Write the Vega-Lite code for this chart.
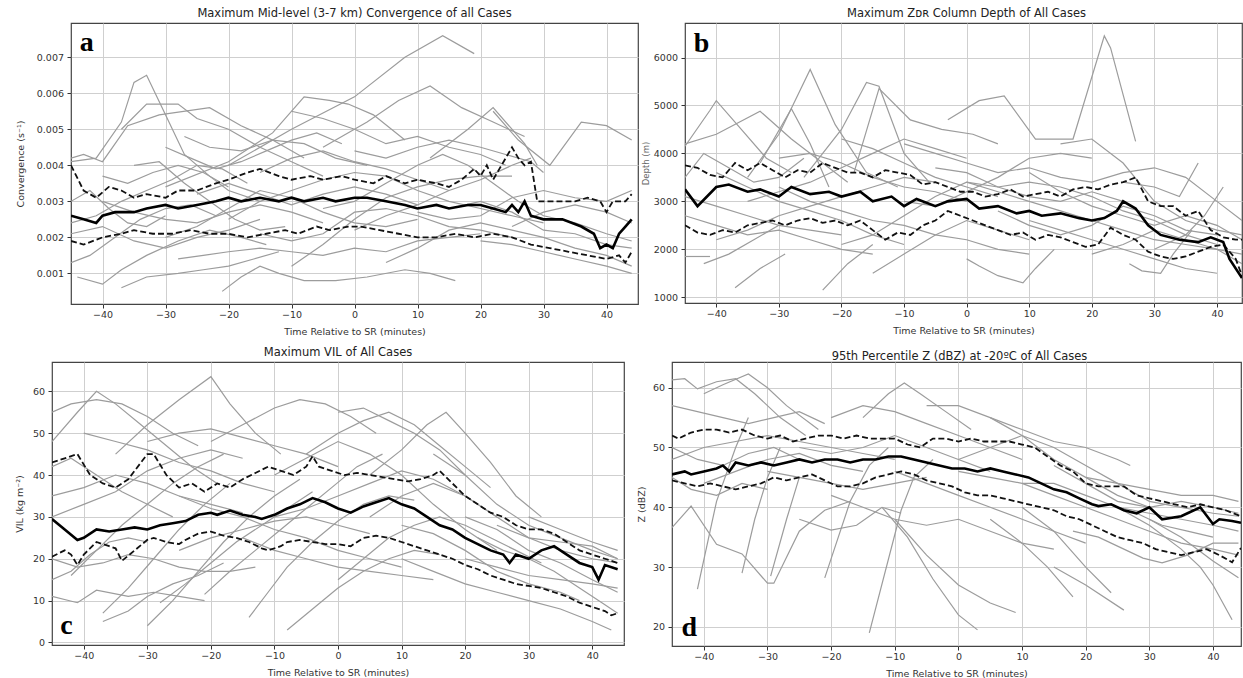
{
"$schema":"https://vega.github.io/schema/vega-lite/v6.json",
"padding":{"left":13,"top":7,"right":0,"bottom":0},
"config":{
 "view":{"stroke":"#444","strokeWidth":1.2},
 "axis":{"grid":true,"gridColor":"#cfcfcf","gridWidth":1,"domain":false,"tickColor":"#333","tickSize":4,"labelFont":"DejaVu Sans","labelFontSize":9.5,"labelColor":"#333","labelPadding":3.5,"titleFont":"DejaVu Sans","titleFontSize":9.5,"titleFontWeight":"normal","titleColor":"#333"},
 "axisX":{"labelPadding":1.5,"titlePadding":7},
 "title":{"font":"DejaVu Sans","fontSize":11.5,"fontWeight":"normal","color":"#222","offset":3.5}
},
"datasets":{
"ag":[
{"s":1,"t":-20,"v":0.004},{"s":1,"t":-10,"v":0.005},{"s":1,"t":0,"v":0.0059},{"s":1,"t":8,"v":0.007},{"s":1,"t":14,"v":0.0076},{"s":1,"t":19,"v":0.0071},
{"s":2,"t":-45,"v":0.0041},{"s":2,"t":-41,"v":0.0042},{"s":2,"t":-37,"v":0.0052},{"s":2,"t":-35,"v":0.0063},{"s":2,"t":-33,"v":0.0065},{"s":2,"t":-30,"v":0.0054},{"s":2,"t":-27,"v":0.0043},{"s":2,"t":-23,"v":0.0037},{"s":2,"t":-20,"v":0.0033},{"s":2,"t":-15,"v":0.003},
{"s":3,"t":-37,"v":0.005},{"s":3,"t":-33,"v":0.0057},{"s":3,"t":-28,"v":0.0057},{"s":3,"t":-25,"v":0.0053},{"s":3,"t":-20,"v":0.005},{"s":3,"t":-15,"v":0.0045},{"s":3,"t":-10,"v":0.0041},{"s":3,"t":-5,"v":0.0037},
{"s":4,"t":-45,"v":0.0042},{"s":4,"t":-43,"v":0.0043},{"s":4,"t":-40,"v":0.0041},{"s":4,"t":-36,"v":0.0051},{"s":4,"t":-31,"v":0.0054},{"s":4,"t":-23,"v":0.0056},{"s":4,"t":-18,"v":0.0051},{"s":4,"t":-13,"v":0.0047},{"s":4,"t":-8,"v":0.0042},
{"s":5,"t":-30,"v":0.0034},{"s":5,"t":-20,"v":0.0041},{"s":5,"t":-13,"v":0.0049},{"s":5,"t":-8,"v":0.0059},{"s":5,"t":-4,"v":0.0058},{"s":5,"t":-1,"v":0.0057},{"s":5,"t":3,"v":0.0054},{"s":5,"t":8,"v":0.0047},
{"s":6,"t":-5,"v":0.0045},{"s":6,"t":2,"v":0.0052},{"s":6,"t":7,"v":0.0058},{"s":6,"t":12,"v":0.0062},{"s":6,"t":17,"v":0.0056},{"s":6,"t":22,"v":0.0052},{"s":6,"t":27,"v":0.0048},
{"s":7,"t":12,"v":0.0042},{"s":7,"t":18,"v":0.005},{"s":7,"t":22,"v":0.0056},{"s":7,"t":27,"v":0.0046},{"s":7,"t":29,"v":0.004},
{"s":8,"t":22,"v":0.0055},{"s":8,"t":26,"v":0.0047},{"s":8,"t":31,"v":0.004},{"s":8,"t":36,"v":0.0052},{"s":8,"t":40,"v":0.0051},{"s":8,"t":44,"v":0.0047},
{"s":9,"t":-10,"v":0.0055},{"s":9,"t":-5,"v":0.0053},{"s":9,"t":0,"v":0.005},{"s":9,"t":5,"v":0.0046},{"s":9,"t":10,"v":0.0048},{"s":9,"t":15,"v":0.0045},{"s":9,"t":20,"v":0.0043},{"s":9,"t":24,"v":0.004},
{"s":10,"t":-27,"v":0.0048},{"s":10,"t":-23,"v":0.0045},{"s":10,"t":-18,"v":0.0044},{"s":10,"t":-13,"v":0.0047},{"s":10,"t":-8,"v":0.0046},{"s":10,"t":-3,"v":0.0042},{"s":10,"t":2,"v":0.004},
{"s":11,"t":-44,"v":0.0009},{"s":11,"t":-40,"v":0.0007},{"s":11,"t":-37,"v":0.0011},{"s":11,"t":-33,"v":0.0015},{"s":11,"t":-28,"v":0.0019},{"s":11,"t":-23,"v":0.0022},{"s":11,"t":-18,"v":0.002},{"s":11,"t":-14,"v":0.0018},
{"s":12,"t":-37,"v":0.0006},{"s":12,"t":-33,"v":0.0009},{"s":12,"t":-28,"v":0.001},{"s":12,"t":-24,"v":0.0011},{"s":12,"t":-20,"v":0.0012},{"s":12,"t":-16,"v":0.0014},{"s":12,"t":-12,"v":0.0016},
{"s":13,"t":-21,"v":0.0005},{"s":13,"t":-18,"v":0.0009},{"s":13,"t":-15,"v":0.0012},{"s":13,"t":-12,"v":0.001},{"s":13,"t":-8,"v":0.0008},{"s":13,"t":-3,"v":0.0008},{"s":13,"t":2,"v":0.0009},{"s":13,"t":8,"v":0.0011},{"s":13,"t":12,"v":0.001},{"s":13,"t":16,"v":0.0008},
{"s":14,"t":-45,"v":0.0013},{"s":14,"t":-42,"v":0.0015},{"s":14,"t":-38,"v":0.002},{"s":14,"t":-34,"v":0.0025},{"s":14,"t":-30,"v":0.0028},{"s":14,"t":-26,"v":0.0029},{"s":14,"t":-22,"v":0.0026},
{"s":15,"t":-28,"v":0.0014},{"s":15,"t":-24,"v":0.0015},{"s":15,"t":-20,"v":0.0016},{"s":15,"t":-15,"v":0.0017},{"s":15,"t":-10,"v":0.0016},{"s":15,"t":-5,"v":0.0015},{"s":15,"t":0,"v":0.0017},{"s":15,"t":5,"v":0.0016},{"s":15,"t":10,"v":0.0019},{"s":15,"t":15,"v":0.002},{"s":15,"t":20,"v":0.0021},
{"s":16,"t":-10,"v":0.0012},{"s":16,"t":-5,"v":0.0018},{"s":16,"t":0,"v":0.0025},{"s":16,"t":5,"v":0.0031},{"s":16,"t":10,"v":0.0034},{"s":16,"t":15,"v":0.0036},{"s":16,"t":20,"v":0.0037},{"s":16,"t":25,"v":0.0037},
{"s":17,"t":5,"v":0.0013},{"s":17,"t":10,"v":0.0017},{"s":17,"t":15,"v":0.0022},{"s":17,"t":20,"v":0.0024},{"s":17,"t":25,"v":0.0022},{"s":17,"t":30,"v":0.002},{"s":17,"t":35,"v":0.0017},{"s":17,"t":40,"v":0.0015},{"s":17,"t":44,"v":0.0012},
{"s":18,"t":15,"v":0.0028},{"s":18,"t":20,"v":0.003},{"s":18,"t":25,"v":0.0027},{"s":18,"t":30,"v":0.0022},{"s":18,"t":35,"v":0.0021},{"s":18,"t":40,"v":0.0018},{"s":18,"t":44,"v":0.0017},
{"s":19,"t":-45,"v":0.0024},{"s":19,"t":-41,"v":0.0026},{"s":19,"t":-37,"v":0.003},{"s":19,"t":-33,"v":0.0033},{"s":19,"t":-29,"v":0.0036},{"s":19,"t":-25,"v":0.004},{"s":19,"t":-21,"v":0.0039},{"s":19,"t":-17,"v":0.0035},
{"s":20,"t":-35,"v":0.004},{"s":20,"t":-31,"v":0.0041},{"s":20,"t":-27,"v":0.0035},{"s":20,"t":-23,"v":0.003},{"s":20,"t":-19,"v":0.0025},{"s":20,"t":-15,"v":0.0022},{"s":20,"t":-11,"v":0.0023},
{"s":21,"t":-20,"v":0.0025},{"s":21,"t":-15,"v":0.003},{"s":21,"t":-10,"v":0.0033},{"s":21,"t":-5,"v":0.0036},{"s":21,"t":0,"v":0.0038},{"s":21,"t":5,"v":0.0037},{"s":21,"t":10,"v":0.0033},{"s":21,"t":15,"v":0.003},{"s":21,"t":20,"v":0.0028},{"s":21,"t":25,"v":0.0026},{"s":21,"t":30,"v":0.0024},
{"s":22,"t":0,"v":0.0022},{"s":22,"t":5,"v":0.0026},{"s":22,"t":10,"v":0.0029},{"s":22,"t":15,"v":0.0033},{"s":22,"t":20,"v":0.0036},{"s":22,"t":25,"v":0.004},{"s":22,"t":28,"v":0.0042},
{"s":23,"t":-5,"v":0.0028},{"s":23,"t":0,"v":0.003},{"s":23,"t":5,"v":0.0035},{"s":23,"t":10,"v":0.004},{"s":23,"t":14,"v":0.0043},{"s":23,"t":18,"v":0.004},{"s":23,"t":22,"v":0.0035},{"s":23,"t":26,"v":0.003},{"s":23,"t":30,"v":0.0026},{"s":23,"t":35,"v":0.0024},{"s":23,"t":40,"v":0.0021},{"s":23,"t":44,"v":0.0019},
{"s":24,"t":-40,"v":0.003},{"s":24,"t":-35,"v":0.0027},{"s":24,"t":-30,"v":0.0025},{"s":24,"t":-25,"v":0.0024},{"s":24,"t":-20,"v":0.0027},{"s":24,"t":-15,"v":0.0029},{"s":24,"t":-10,"v":0.0027},{"s":24,"t":-5,"v":0.0024},
{"s":25,"t":-15,"v":0.0038},{"s":25,"t":-10,"v":0.0042},{"s":25,"t":-5,"v":0.0044},{"s":25,"t":0,"v":0.0041},{"s":25,"t":5,"v":0.0039},{"s":25,"t":10,"v":0.0036},{"s":25,"t":15,"v":0.0033},
{"s":26,"t":-30,"v":0.002},{"s":26,"t":-25,"v":0.0023},{"s":26,"t":-20,"v":0.0028},{"s":26,"t":-15,"v":0.0033},{"s":26,"t":-10,"v":0.0031},{"s":26,"t":-5,"v":0.0027},{"s":26,"t":0,"v":0.0024},{"s":26,"t":5,"v":0.0023},{"s":26,"t":10,"v":0.0025},
{"s":27,"t":10,"v":0.0027},{"s":27,"t":15,"v":0.0025},{"s":27,"t":20,"v":0.0026},{"s":27,"t":25,"v":0.0031},{"s":27,"t":30,"v":0.0033},{"s":27,"t":35,"v":0.0031},{"s":27,"t":40,"v":0.003},{"s":27,"t":44,"v":0.0033},
{"s":28,"t":-45,"v":0.003},{"s":28,"t":-42,"v":0.0033},{"s":28,"t":-39,"v":0.0028},{"s":28,"t":-36,"v":0.0024},{"s":28,"t":-33,"v":0.0023},{"s":28,"t":-30,"v":0.0026},
{"s":29,"t":20,"v":0.0019},{"s":29,"t":25,"v":0.0018},{"s":29,"t":30,"v":0.0016},{"s":29,"t":35,"v":0.0014},{"s":29,"t":40,"v":0.0012},{"s":29,"t":44,"v":0.001},
{"s":30,"t":-25,"v":0.0032},{"s":30,"t":-20,"v":0.0035},{"s":30,"t":-15,"v":0.0032},{"s":30,"t":-10,"v":0.0029},{"s":30,"t":-5,"v":0.0032},{"s":30,"t":0,"v":0.0034},{"s":30,"t":5,"v":0.0032},{"s":30,"t":10,"v":0.0029},
{"s":31,"t":-45,"v":0.0021},{"s":31,"t":-40,"v":0.0023},{"s":31,"t":-35,"v":0.0019},{"s":31,"t":-30,"v":0.0017},{"s":31,"t":-25,"v":0.002},{"s":31,"t":-20,"v":0.0022},{"s":31,"t":-15,"v":0.0025},
{"s":32,"t":-30,"v":0.0045},{"s":32,"t":-26,"v":0.0042},{"s":32,"t":-22,"v":0.0039},{"s":32,"t":-18,"v":0.0041},{"s":32,"t":-14,"v":0.0044},{"s":32,"t":-10,"v":0.0047},{"s":32,"t":-6,"v":0.0049},{"s":32,"t":-2,"v":0.0046},
{"s":33,"t":0,"v":0.0044},{"s":33,"t":5,"v":0.0042},{"s":33,"t":10,"v":0.0045},{"s":33,"t":15,"v":0.0047},{"s":33,"t":20,"v":0.0045},{"s":33,"t":24,"v":0.0043},{"s":33,"t":28,"v":0.0041},{"s":33,"t":30,"v":0.0038},
{"s":34,"t":25,"v":0.0023},{"s":34,"t":30,"v":0.0027},{"s":34,"t":35,"v":0.0029},{"s":34,"t":40,"v":0.0027},{"s":34,"t":44,"v":0.0024},
{"s":35,"t":-15,"v":0.0021},{"s":35,"t":-10,"v":0.0019},{"s":35,"t":-5,"v":0.0021},{"s":35,"t":0,"v":0.0027},{"s":35,"t":5,"v":0.0028},{"s":35,"t":10,"v":0.0026},{"s":35,"t":15,"v":0.0023},{"s":35,"t":20,"v":0.0022},{"s":35,"t":25,"v":0.002},
{"s":36,"t":-40,"v":0.0037},{"s":36,"t":-36,"v":0.0035},{"s":36,"t":-32,"v":0.0038},{"s":36,"t":-28,"v":0.004},{"s":36,"t":-24,"v":0.0038},{"s":36,"t":-20,"v":0.0034}
],
"am":[
{"s":"m","t":-45,"v":0.0026},{"s":"m","t":-43,"v":0.0025},{"s":"m","t":-41,"v":0.0024},{"s":"m","t":-40,"v":0.0026},{"s":"m","t":-38,"v":0.0027},{"s":"m","t":-35,"v":0.0027},{"s":"m","t":-33,"v":0.0028},{"s":"m","t":-30,"v":0.0029},{"s":"m","t":-28,"v":0.0028},{"s":"m","t":-25,"v":0.0029},{"s":"m","t":-22,"v":0.003},{"s":"m","t":-20,"v":0.0031},{"s":"m","t":-18,"v":0.003},{"s":"m","t":-15,"v":0.0031},{"s":"m","t":-12,"v":0.003},{"s":"m","t":-10,"v":0.0031},{"s":"m","t":-8,"v":0.003},{"s":"m","t":-5,"v":0.0031},{"s":"m","t":-3,"v":0.003},{"s":"m","t":0,"v":0.0031},{"s":"m","t":2,"v":0.0031},{"s":"m","t":5,"v":0.003},{"s":"m","t":8,"v":0.0029},{"s":"m","t":10,"v":0.0028},{"s":"m","t":13,"v":0.0029},{"s":"m","t":15,"v":0.0028},{"s":"m","t":18,"v":0.0029},{"s":"m","t":20,"v":0.0029},{"s":"m","t":22,"v":0.0028},{"s":"m","t":24,"v":0.0027},{"s":"m","t":25,"v":0.0029},{"s":"m","t":26,"v":0.0027},{"s":"m","t":27,"v":0.003},{"s":"m","t":28,"v":0.0026},{"s":"m","t":30,"v":0.0025},{"s":"m","t":33,"v":0.0025},{"s":"m","t":36,"v":0.0023},{"s":"m","t":38,"v":0.0021},{"s":"m","t":39,"v":0.0017},{"s":"m","t":40,"v":0.0018},{"s":"m","t":41,"v":0.0017},{"s":"m","t":42,"v":0.0021},{"s":"m","t":43,"v":0.0023},{"s":"m","t":44,"v":0.0025},
{"s":"h","t":-45,"v":0.004},{"s":"h","t":-43,"v":0.0033},{"s":"h","t":-41,"v":0.0031},{"s":"h","t":-39,"v":0.0034},{"s":"h","t":-37,"v":0.0033},{"s":"h","t":-35,"v":0.0031},{"s":"h","t":-33,"v":0.0032},{"s":"h","t":-30,"v":0.0031},{"s":"h","t":-28,"v":0.0033},{"s":"h","t":-25,"v":0.0033},{"s":"h","t":-22,"v":0.0035},{"s":"h","t":-20,"v":0.0036},{"s":"h","t":-17,"v":0.0038},{"s":"h","t":-15,"v":0.0039},{"s":"h","t":-12,"v":0.0037},{"s":"h","t":-10,"v":0.0036},{"s":"h","t":-7,"v":0.0037},{"s":"h","t":-5,"v":0.0036},{"s":"h","t":-2,"v":0.0037},{"s":"h","t":0,"v":0.0036},{"s":"h","t":3,"v":0.0035},{"s":"h","t":5,"v":0.0037},{"s":"h","t":8,"v":0.0035},{"s":"h","t":10,"v":0.0036},{"s":"h","t":13,"v":0.0035},{"s":"h","t":15,"v":0.0034},{"s":"h","t":17,"v":0.0036},{"s":"h","t":19,"v":0.0039},{"s":"h","t":20,"v":0.0037},{"s":"h","t":21,"v":0.004},{"s":"h","t":22,"v":0.0036},{"s":"h","t":23,"v":0.0039},{"s":"h","t":25,"v":0.0045},{"s":"h","t":26,"v":0.0042},{"s":"h","t":27,"v":0.004},{"s":"h","t":28,"v":0.0041},{"s":"h","t":29,"v":0.003},{"s":"h","t":32,"v":0.003},{"s":"h","t":35,"v":0.003},{"s":"h","t":37,"v":0.0031},{"s":"h","t":39,"v":0.003},{"s":"h","t":40,"v":0.0027},{"s":"h","t":41,"v":0.003},{"s":"h","t":43,"v":0.003},{"s":"h","t":44,"v":0.0032},
{"s":"l","t":-45,"v":0.0019},{"s":"l","t":-43,"v":0.0018},{"s":"l","t":-40,"v":0.002},{"s":"l","t":-37,"v":0.0021},{"s":"l","t":-35,"v":0.0022},{"s":"l","t":-32,"v":0.0021},{"s":"l","t":-29,"v":0.0021},{"s":"l","t":-26,"v":0.0022},{"s":"l","t":-23,"v":0.0021},{"s":"l","t":-20,"v":0.0021},{"s":"l","t":-17,"v":0.002},{"s":"l","t":-14,"v":0.0021},{"s":"l","t":-11,"v":0.0022},{"s":"l","t":-9,"v":0.0021},{"s":"l","t":-6,"v":0.0023},{"s":"l","t":-4,"v":0.0022},{"s":"l","t":-1,"v":0.0023},{"s":"l","t":1,"v":0.0023},{"s":"l","t":4,"v":0.0022},{"s":"l","t":7,"v":0.0021},{"s":"l","t":10,"v":0.002},{"s":"l","t":13,"v":0.002},{"s":"l","t":16,"v":0.0021},{"s":"l","t":19,"v":0.002},{"s":"l","t":22,"v":0.0021},{"s":"l","t":25,"v":0.002},{"s":"l","t":28,"v":0.0018},{"s":"l","t":31,"v":0.0017},{"s":"l","t":34,"v":0.0016},{"s":"l","t":37,"v":0.0015},{"s":"l","t":40,"v":0.0014},{"s":"l","t":42,"v":0.0015},{"s":"l","t":43,"v":0.0013},{"s":"l","t":44,"v":0.0016}
],
"bg":[
{"s":1,"t":-3,"v":4700},{"s":1,"t":2,"v":5100},{"s":1,"t":6,"v":5200},{"s":1,"t":11,"v":4300},{"s":1,"t":17,"v":4300},{"s":1,"t":22,"v":6450},{"s":1,"t":23,"v":6200},{"s":1,"t":27,"v":4250},
{"s":2,"t":-35,"v":3500},{"s":2,"t":-30,"v":4400},{"s":2,"t":-25,"v":5750},{"s":2,"t":-21,"v":4600},{"s":2,"t":-16,"v":3600},{"s":2,"t":-11,"v":3300},
{"s":3,"t":-26,"v":3500},{"s":3,"t":-20,"v":4500},{"s":3,"t":-16,"v":5480},{"s":3,"t":-14,"v":5400},{"s":3,"t":-10,"v":4000},{"s":3,"t":-6,"v":3400},
{"s":4,"t":-18,"v":3600},{"s":4,"t":-14,"v":5350},{"s":4,"t":-9,"v":4700},{"s":4,"t":-4,"v":4500},{"s":4,"t":1,"v":4400},{"s":4,"t":5,"v":4200},
{"s":5,"t":-45,"v":4150},{"s":5,"t":-41,"v":4900},{"s":5,"t":-40,"v":5100},{"s":5,"t":-36,"v":4500},{"s":5,"t":-32,"v":3900},{"s":5,"t":-28,"v":3600},
{"s":6,"t":-45,"v":4200},{"s":6,"t":-40,"v":4400},{"s":6,"t":-33,"v":4880},{"s":6,"t":-28,"v":4300},{"s":6,"t":-23,"v":3800},{"s":6,"t":-19,"v":3400},
{"s":7,"t":-33,"v":3800},{"s":7,"t":-28,"v":4930},{"s":7,"t":-25,"v":4200},{"s":7,"t":-22,"v":3300},
{"s":8,"t":-37,"v":1200},{"s":8,"t":-33,"v":1600},{"s":8,"t":-29,"v":1900},
{"s":9,"t":-23,"v":1150},{"s":9,"t":-19,"v":1700},{"s":9,"t":-15,"v":2100},
{"s":10,"t":0,"v":1800},{"s":10,"t":2,"v":1650},{"s":10,"t":5,"v":1450},{"s":10,"t":9,"v":1300},{"s":10,"t":11,"v":1600},{"s":10,"t":14,"v":2000},
{"s":11,"t":26,"v":1700},{"s":11,"t":28,"v":1550},{"s":11,"t":31,"v":1500},{"s":11,"t":33,"v":1900},{"s":11,"t":36,"v":2400},
{"s":12,"t":-45,"v":1850},{"s":12,"t":-41,"v":1850},
{"s":13,"t":-42,"v":1700},{"s":13,"t":-38,"v":1900},{"s":13,"t":-34,"v":2200},{"s":13,"t":-30,"v":2500},
{"s":14,"t":25,"v":3400},{"s":14,"t":30,"v":3300},{"s":14,"t":34,"v":3100},{"s":14,"t":37,"v":3800},
{"s":15,"t":-10,"v":4200},{"s":15,"t":-5,"v":4000},{"s":15,"t":0,"v":3800},{"s":15,"t":5,"v":3600},{"s":15,"t":10,"v":3700},{"s":15,"t":15,"v":3500},{"s":15,"t":20,"v":3400},{"s":15,"t":25,"v":3600},{"s":15,"t":30,"v":3700},{"s":15,"t":35,"v":3500},{"s":15,"t":40,"v":3000},{"s":15,"t":44,"v":2600},
{"s":16,"t":-20,"v":4300},{"s":16,"t":-15,"v":4100},{"s":16,"t":-10,"v":3800},{"s":16,"t":-5,"v":3500},{"s":16,"t":0,"v":3300},{"s":16,"t":5,"v":3100},
{"s":17,"t":-30,"v":3300},{"s":17,"t":-25,"v":3000},{"s":17,"t":-20,"v":2800},{"s":17,"t":-15,"v":2600},{"s":17,"t":-10,"v":2500},{"s":17,"t":-5,"v":2300},{"s":17,"t":0,"v":2200},{"s":17,"t":5,"v":2000},{"s":17,"t":10,"v":1900},
{"s":18,"t":-45,"v":3100},{"s":18,"t":-40,"v":2900},{"s":18,"t":-35,"v":2700},{"s":18,"t":-30,"v":2500},{"s":18,"t":-25,"v":2400},{"s":18,"t":-20,"v":2300},
{"s":19,"t":-40,"v":3600},{"s":19,"t":-35,"v":3300},{"s":19,"t":-30,"v":3000},{"s":19,"t":-25,"v":2800},{"s":19,"t":-20,"v":2600},{"s":19,"t":-15,"v":2300},{"s":19,"t":-10,"v":2100},
{"s":20,"t":0,"v":3400},{"s":20,"t":5,"v":3200},{"s":20,"t":10,"v":3000},{"s":20,"t":15,"v":2800},{"s":20,"t":20,"v":2600},{"s":20,"t":25,"v":2400},{"s":20,"t":30,"v":2200},{"s":20,"t":35,"v":2100},{"s":20,"t":40,"v":2000},{"s":20,"t":44,"v":1900},
{"s":21,"t":10,"v":2600},{"s":21,"t":15,"v":2400},{"s":21,"t":20,"v":2200},{"s":21,"t":25,"v":2000},{"s":21,"t":30,"v":1800},{"s":21,"t":35,"v":1600},{"s":21,"t":40,"v":1500},
{"s":22,"t":-10,"v":3000},{"s":22,"t":-5,"v":2900},{"s":22,"t":0,"v":3200},{"s":22,"t":5,"v":3500},{"s":22,"t":10,"v":3900},{"s":22,"t":15,"v":4000},{"s":22,"t":20,"v":3900},
{"s":23,"t":5,"v":2800},{"s":23,"t":10,"v":2500},{"s":23,"t":15,"v":2300},{"s":23,"t":20,"v":2500},{"s":23,"t":25,"v":2900},{"s":23,"t":30,"v":2700},{"s":23,"t":35,"v":2400},{"s":23,"t":40,"v":2300},
{"s":24,"t":-35,"v":3000},{"s":24,"t":-30,"v":3200},{"s":24,"t":-25,"v":3400},{"s":24,"t":-20,"v":3700},{"s":24,"t":-15,"v":4000},{"s":24,"t":-10,"v":4300},{"s":24,"t":-5,"v":4100},{"s":24,"t":0,"v":3900},
{"s":25,"t":-45,"v":3500},{"s":25,"t":-42,"v":4000},{"s":25,"t":-38,"v":3700},{"s":25,"t":-34,"v":3400},{"s":25,"t":-30,"v":3500},{"s":25,"t":-26,"v":3900},
{"s":26,"t":-20,"v":2100},{"s":26,"t":-15,"v":2300},{"s":26,"t":-10,"v":2700},{"s":26,"t":-5,"v":3100},{"s":26,"t":0,"v":3400},{"s":26,"t":5,"v":3300},{"s":26,"t":10,"v":3100},{"s":26,"t":15,"v":3000},{"s":26,"t":20,"v":3200},{"s":26,"t":25,"v":3000},
{"s":27,"t":15,"v":4200},{"s":27,"t":20,"v":4300},{"s":27,"t":25,"v":3800},{"s":27,"t":30,"v":3000},{"s":27,"t":35,"v":2600},{"s":27,"t":40,"v":2400},{"s":27,"t":44,"v":2300},
{"s":28,"t":30,"v":2000},{"s":28,"t":35,"v":2300},{"s":28,"t":38,"v":2700},{"s":28,"t":41,"v":3300},
{"s":29,"t":-15,"v":1500},{"s":29,"t":-10,"v":1900},{"s":29,"t":-5,"v":2300},{"s":29,"t":0,"v":2600},{"s":29,"t":5,"v":2400},{"s":29,"t":10,"v":2200},
{"s":30,"t":-45,"v":2700},{"s":30,"t":-40,"v":2500},{"s":30,"t":-35,"v":2300},{"s":30,"t":-30,"v":2400},{"s":30,"t":-25,"v":2200},{"s":30,"t":-20,"v":2000},{"s":30,"t":-15,"v":1900},
{"s":31,"t":-5,"v":3700},{"s":31,"t":0,"v":3600},{"s":31,"t":5,"v":3300},{"s":31,"t":10,"v":3400},{"s":31,"t":15,"v":3300},{"s":31,"t":20,"v":3100},{"s":31,"t":25,"v":2800},{"s":31,"t":30,"v":2600},{"s":31,"t":35,"v":2300},{"s":31,"t":40,"v":2100},
{"s":32,"t":-30,"v":3900},{"s":32,"t":-25,"v":4000},{"s":32,"t":-20,"v":3800},{"s":32,"t":-15,"v":3500},{"s":32,"t":-10,"v":3300},{"s":32,"t":-5,"v":3200},{"s":32,"t":0,"v":3000},
{"s":33,"t":10,"v":3600},{"s":33,"t":15,"v":3200},{"s":33,"t":20,"v":2900},{"s":33,"t":25,"v":2700},{"s":33,"t":30,"v":2500},{"s":33,"t":35,"v":2700},{"s":33,"t":40,"v":2500},{"s":33,"t":44,"v":2200},
{"s":34,"t":-40,"v":2200},{"s":34,"t":-35,"v":2400},{"s":34,"t":-30,"v":2700},{"s":34,"t":-25,"v":2900},{"s":34,"t":-20,"v":3100},{"s":34,"t":-15,"v":3300},{"s":34,"t":-10,"v":3500},{"s":34,"t":-5,"v":3400},
{"s":35,"t":20,"v":1900},{"s":35,"t":25,"v":2100},{"s":35,"t":30,"v":2400},{"s":35,"t":35,"v":2200},{"s":35,"t":40,"v":2000},{"s":35,"t":44,"v":1700}
],
"bm":[
{"s":"m","t":-45,"v":3250},{"s":"m","t":-43,"v":2900},{"s":"m","t":-40,"v":3300},{"s":"m","t":-38,"v":3350},{"s":"m","t":-35,"v":3200},{"s":"m","t":-33,"v":3250},{"s":"m","t":-30,"v":3100},{"s":"m","t":-28,"v":3300},{"s":"m","t":-25,"v":3150},{"s":"m","t":-22,"v":3200},{"s":"m","t":-20,"v":3100},{"s":"m","t":-17,"v":3200},{"s":"m","t":-15,"v":3000},{"s":"m","t":-12,"v":3100},{"s":"m","t":-10,"v":2900},{"s":"m","t":-8,"v":3050},{"s":"m","t":-5,"v":2900},{"s":"m","t":-3,"v":3000},{"s":"m","t":0,"v":3050},{"s":"m","t":2,"v":2850},{"s":"m","t":5,"v":2900},{"s":"m","t":8,"v":2750},{"s":"m","t":10,"v":2800},{"s":"m","t":12,"v":2700},{"s":"m","t":15,"v":2750},{"s":"m","t":18,"v":2650},{"s":"m","t":20,"v":2600},{"s":"m","t":22,"v":2650},{"s":"m","t":24,"v":2800},{"s":"m","t":25,"v":3000},{"s":"m","t":27,"v":2850},{"s":"m","t":29,"v":2500},{"s":"m","t":31,"v":2300},{"s":"m","t":34,"v":2200},{"s":"m","t":37,"v":2150},{"s":"m","t":39,"v":2250},{"s":"m","t":41,"v":2150},{"s":"m","t":42,"v":1800},{"s":"m","t":44,"v":1400},
{"s":"h","t":-45,"v":3750},{"s":"h","t":-43,"v":3700},{"s":"h","t":-41,"v":3550},{"s":"h","t":-39,"v":3500},{"s":"h","t":-37,"v":3800},{"s":"h","t":-35,"v":3650},{"s":"h","t":-33,"v":3800},{"s":"h","t":-31,"v":3650},{"s":"h","t":-29,"v":3500},{"s":"h","t":-27,"v":3650},{"s":"h","t":-25,"v":3600},{"s":"h","t":-23,"v":3800},{"s":"h","t":-21,"v":3700},{"s":"h","t":-19,"v":3600},{"s":"h","t":-17,"v":3600},{"s":"h","t":-15,"v":3500},{"s":"h","t":-13,"v":3650},{"s":"h","t":-11,"v":3600},{"s":"h","t":-9,"v":3550},{"s":"h","t":-7,"v":3350},{"s":"h","t":-5,"v":3400},{"s":"h","t":-3,"v":3300},{"s":"h","t":-1,"v":3200},{"s":"h","t":1,"v":3200},{"s":"h","t":3,"v":3100},{"s":"h","t":5,"v":3150},{"s":"h","t":7,"v":3250},{"s":"h","t":9,"v":3100},{"s":"h","t":11,"v":3150},{"s":"h","t":13,"v":3200},{"s":"h","t":15,"v":3100},{"s":"h","t":17,"v":3250},{"s":"h","t":19,"v":3300},{"s":"h","t":21,"v":3250},{"s":"h","t":23,"v":3350},{"s":"h","t":25,"v":3400},{"s":"h","t":27,"v":3500},{"s":"h","t":29,"v":3000},{"s":"h","t":31,"v":2900},{"s":"h","t":33,"v":2900},{"s":"h","t":35,"v":2700},{"s":"h","t":37,"v":2800},{"s":"h","t":39,"v":2400},{"s":"h","t":41,"v":2250},{"s":"h","t":43,"v":2200},{"s":"h","t":44,"v":2200},
{"s":"l","t":-45,"v":2500},{"s":"l","t":-43,"v":2350},{"s":"l","t":-41,"v":2300},{"s":"l","t":-39,"v":2400},{"s":"l","t":-37,"v":2350},{"s":"l","t":-35,"v":2500},{"s":"l","t":-33,"v":2550},{"s":"l","t":-31,"v":2600},{"s":"l","t":-29,"v":2500},{"s":"l","t":-27,"v":2600},{"s":"l","t":-25,"v":2650},{"s":"l","t":-23,"v":2550},{"s":"l","t":-21,"v":2600},{"s":"l","t":-19,"v":2500},{"s":"l","t":-17,"v":2600},{"s":"l","t":-15,"v":2400},{"s":"l","t":-13,"v":2200},{"s":"l","t":-11,"v":2350},{"s":"l","t":-9,"v":2300},{"s":"l","t":-7,"v":2500},{"s":"l","t":-5,"v":2600},{"s":"l","t":-3,"v":2800},{"s":"l","t":-1,"v":2700},{"s":"l","t":1,"v":2600},{"s":"l","t":3,"v":2500},{"s":"l","t":5,"v":2400},{"s":"l","t":7,"v":2300},{"s":"l","t":9,"v":2350},{"s":"l","t":11,"v":2200},{"s":"l","t":13,"v":2300},{"s":"l","t":15,"v":2250},{"s":"l","t":17,"v":2150},{"s":"l","t":19,"v":2050},{"s":"l","t":21,"v":2100},{"s":"l","t":23,"v":2450},{"s":"l","t":25,"v":2300},{"s":"l","t":27,"v":2200},{"s":"l","t":29,"v":1950},{"s":"l","t":31,"v":1850},{"s":"l","t":33,"v":1800},{"s":"l","t":35,"v":1850},{"s":"l","t":37,"v":1950},{"s":"l","t":39,"v":2050},{"s":"l","t":41,"v":2100},{"s":"l","t":43,"v":1800},{"s":"l","t":44,"v":1450}
],
"cg":[
{"s":1,"t":-45,"v":48},{"s":1,"t":-41,"v":55},{"s":1,"t":-38,"v":60},{"s":1,"t":-35,"v":57},{"s":1,"t":-31,"v":52},{"s":1,"t":-27,"v":47},{"s":1,"t":-23,"v":42},{"s":1,"t":-19,"v":38},
{"s":2,"t":-35,"v":45},{"s":2,"t":-30,"v":52},{"s":2,"t":-25,"v":58},{"s":2,"t":-20,"v":63.5},{"s":2,"t":-17,"v":57},{"s":2,"t":-13,"v":50},{"s":2,"t":-9,"v":45},
{"s":3,"t":-45,"v":55},{"s":3,"t":-42,"v":57},{"s":3,"t":-38,"v":58},{"s":3,"t":-34,"v":57},{"s":3,"t":-30,"v":54},{"s":3,"t":-26,"v":50},{"s":3,"t":-22,"v":47},
{"s":4,"t":-20,"v":48},{"s":4,"t":-15,"v":52},{"s":4,"t":-10,"v":56},{"s":4,"t":-6,"v":58},{"s":4,"t":-2,"v":57},{"s":4,"t":2,"v":54},{"s":4,"t":6,"v":50},
{"s":5,"t":-5,"v":45},{"s":5,"t":0,"v":50},{"s":5,"t":4,"v":53},{"s":5,"t":8,"v":55},{"s":5,"t":12,"v":52},{"s":5,"t":16,"v":47},{"s":5,"t":20,"v":42},{"s":5,"t":24,"v":37},
{"s":6,"t":5,"v":40},{"s":6,"t":10,"v":46},{"s":6,"t":14,"v":52},{"s":6,"t":17,"v":55},{"s":6,"t":20,"v":50},{"s":6,"t":24,"v":43},{"s":6,"t":28,"v":35},{"s":6,"t":32,"v":30},
{"s":7,"t":-45,"v":30},{"s":7,"t":-40,"v":33},{"s":7,"t":-35,"v":36},{"s":7,"t":-30,"v":41},{"s":7,"t":-25,"v":44},{"s":7,"t":-20,"v":46},{"s":7,"t":-15,"v":44},
{"s":8,"t":-42,"v":16},{"s":8,"t":-38,"v":22},{"s":8,"t":-34,"v":28},{"s":8,"t":-30,"v":33},{"s":8,"t":-26,"v":38},{"s":8,"t":-22,"v":42},{"s":8,"t":-18,"v":45},
{"s":9,"t":-37,"v":7},{"s":9,"t":-33,"v":13},{"s":9,"t":-29,"v":20},{"s":9,"t":-25,"v":27},{"s":9,"t":-21,"v":33},{"s":9,"t":-17,"v":38},
{"s":10,"t":-30,"v":4},{"s":10,"t":-26,"v":10},{"s":10,"t":-22,"v":17},{"s":10,"t":-18,"v":24},{"s":10,"t":-14,"v":30},{"s":10,"t":-10,"v":35},{"s":10,"t":-6,"v":39},
{"s":11,"t":-45,"v":11},{"s":11,"t":-41,"v":9.5},{"s":11,"t":-38,"v":12.5},{"s":11,"t":-33,"v":11},{"s":11,"t":-29,"v":12},{"s":11,"t":-25,"v":11},{"s":11,"t":-21,"v":10},
{"s":12,"t":-37,"v":5},{"s":12,"t":-33,"v":7.5},{"s":12,"t":-30,"v":11},{"s":12,"t":-26,"v":14},{"s":12,"t":-22,"v":16},{"s":12,"t":-18,"v":19},
{"s":13,"t":-14,"v":6},{"s":13,"t":-11,"v":12},{"s":13,"t":-8,"v":18},{"s":13,"t":-4,"v":24},{"s":13,"t":0,"v":29},{"s":13,"t":4,"v":33},{"s":13,"t":8,"v":35},{"s":13,"t":12,"v":34},
{"s":14,"t":-28,"v":9.5},{"s":14,"t":-24,"v":14},{"s":14,"t":-20,"v":19},{"s":14,"t":-16,"v":24},{"s":14,"t":-12,"v":28},{"s":14,"t":-8,"v":32},{"s":14,"t":-4,"v":36},
{"s":15,"t":-21,"v":11.5},{"s":15,"t":-17,"v":17},{"s":15,"t":-13,"v":22},{"s":15,"t":-9,"v":27},{"s":15,"t":-5,"v":32},{"s":15,"t":-1,"v":37},{"s":15,"t":3,"v":42},{"s":15,"t":7,"v":45},
{"s":16,"t":0,"v":15},{"s":16,"t":4,"v":20},{"s":16,"t":8,"v":25},{"s":16,"t":12,"v":28},{"s":16,"t":16,"v":30},{"s":16,"t":20,"v":28},{"s":16,"t":24,"v":25},{"s":16,"t":28,"v":22},{"s":16,"t":32,"v":19},
{"s":17,"t":5,"v":30},{"s":17,"t":10,"v":35},{"s":17,"t":15,"v":38},{"s":17,"t":20,"v":35},{"s":17,"t":25,"v":30},{"s":17,"t":30,"v":25},{"s":17,"t":35,"v":22},{"s":17,"t":40,"v":20},{"s":17,"t":44,"v":19},
{"s":18,"t":10,"v":20},{"s":18,"t":15,"v":17},{"s":18,"t":20,"v":14},{"s":18,"t":25,"v":12},{"s":18,"t":30,"v":10},{"s":18,"t":35,"v":8},{"s":18,"t":40,"v":5},{"s":18,"t":43,"v":3},
{"s":19,"t":15,"v":45},{"s":19,"t":20,"v":40},{"s":19,"t":25,"v":33},{"s":19,"t":30,"v":28},{"s":19,"t":35,"v":25},{"s":19,"t":40,"v":22},{"s":19,"t":44,"v":20},
{"s":20,"t":-10,"v":40},{"s":20,"t":-5,"v":44},{"s":20,"t":0,"v":48},{"s":20,"t":5,"v":45},{"s":20,"t":10,"v":40},{"s":20,"t":15,"v":33},{"s":20,"t":20,"v":27},{"s":20,"t":25,"v":22},
{"s":21,"t":-45,"v":20},{"s":21,"t":-41,"v":18},{"s":21,"t":-37,"v":19},{"s":21,"t":-33,"v":21},{"s":21,"t":-29,"v":20},{"s":21,"t":-25,"v":18},{"s":21,"t":-21,"v":17},{"s":21,"t":-17,"v":17},{"s":21,"t":-13,"v":18},
{"s":22,"t":-15,"v":25},{"s":22,"t":-10,"v":22},{"s":22,"t":-5,"v":20},{"s":22,"t":0,"v":18},{"s":22,"t":5,"v":17},{"s":22,"t":10,"v":16},{"s":22,"t":15,"v":15},
{"s":23,"t":20,"v":30},{"s":23,"t":25,"v":27},{"s":23,"t":30,"v":22},{"s":23,"t":35,"v":19},{"s":23,"t":40,"v":15},{"s":23,"t":44,"v":12},
{"s":24,"t":-25,"v":35},{"s":24,"t":-20,"v":32},{"s":24,"t":-15,"v":30},{"s":24,"t":-10,"v":27},{"s":24,"t":-5,"v":25},{"s":24,"t":0,"v":22},{"s":24,"t":5,"v":20},{"s":24,"t":10,"v":18},
{"s":25,"t":-45,"v":42},{"s":25,"t":-42,"v":44},{"s":25,"t":-38,"v":40},{"s":25,"t":-34,"v":36},{"s":25,"t":-30,"v":33},{"s":25,"t":-26,"v":30},
{"s":26,"t":-8,"v":3},{"s":26,"t":-4,"v":8},{"s":26,"t":0,"v":13},{"s":26,"t":4,"v":17},{"s":26,"t":8,"v":20},{"s":26,"t":12,"v":22},{"s":26,"t":16,"v":21},
{"s":27,"t":22,"v":25},{"s":27,"t":26,"v":22},{"s":27,"t":30,"v":20},{"s":27,"t":34,"v":17},{"s":27,"t":38,"v":13},{"s":27,"t":42,"v":9},{"s":27,"t":44,"v":7},
{"s":28,"t":-30,"v":48},{"s":28,"t":-25,"v":50},{"s":28,"t":-20,"v":51},{"s":28,"t":-15,"v":49},{"s":28,"t":-10,"v":47},{"s":28,"t":-5,"v":45},{"s":28,"t":0,"v":42},
{"s":29,"t":0,"v":55},{"s":29,"t":4,"v":56},{"s":29,"t":8,"v":53},{"s":29,"t":12,"v":50},{"s":29,"t":16,"v":46},{"s":29,"t":20,"v":40},
{"s":30,"t":25,"v":28},{"s":30,"t":30,"v":25},{"s":30,"t":35,"v":24},{"s":30,"t":40,"v":23},{"s":30,"t":44,"v":20},
{"s":31,"t":-45,"v":15},{"s":31,"t":-42,"v":17},{"s":31,"t":-39,"v":21},{"s":31,"t":-36,"v":24},{"s":31,"t":-33,"v":25},{"s":31,"t":-30,"v":24},
{"s":32,"t":10,"v":28},{"s":32,"t":15,"v":26},{"s":32,"t":20,"v":22},{"s":32,"t":25,"v":17},{"s":32,"t":30,"v":14},{"s":32,"t":35,"v":12},{"s":32,"t":38,"v":10},
{"s":33,"t":-45,"v":35},{"s":33,"t":-40,"v":37},{"s":33,"t":-35,"v":40},{"s":33,"t":-30,"v":38},{"s":33,"t":-25,"v":35},{"s":33,"t":-20,"v":33},{"s":33,"t":-15,"v":31},
{"s":34,"t":-10,"v":30},{"s":34,"t":-5,"v":32},{"s":34,"t":0,"v":35},{"s":34,"t":5,"v":38},{"s":34,"t":10,"v":41},{"s":34,"t":15,"v":39},{"s":34,"t":20,"v":35},{"s":34,"t":25,"v":30},
{"s":35,"t":20,"v":20},{"s":35,"t":25,"v":18},{"s":35,"t":30,"v":16},{"s":35,"t":35,"v":15},{"s":35,"t":40,"v":14},{"s":35,"t":44,"v":13},
{"s":36,"t":-25,"v":22},{"s":36,"t":-20,"v":25},{"s":36,"t":-15,"v":27},{"s":36,"t":-10,"v":29},{"s":36,"t":-5,"v":30},{"s":36,"t":0,"v":28},{"s":36,"t":5,"v":26},
{"s":37,"t":-40,"v":50},{"s":37,"t":-35,"v":48},{"s":37,"t":-30,"v":46},{"s":37,"t":-25,"v":43},{"s":37,"t":-20,"v":41},{"s":37,"t":-15,"v":38},{"s":37,"t":-10,"v":36},
{"s":38,"t":30,"v":30},{"s":38,"t":35,"v":27},{"s":38,"t":40,"v":24},{"s":38,"t":44,"v":22}
],
"cm":[
{"s":"m","t":-45,"v":29.5},{"s":"m","t":-43,"v":27},{"s":"m","t":-41,"v":24.5},{"s":"m","t":-40,"v":25},{"s":"m","t":-38,"v":27},{"s":"m","t":-36,"v":26.5},{"s":"m","t":-34,"v":27},{"s":"m","t":-32,"v":27.5},{"s":"m","t":-30,"v":27},{"s":"m","t":-28,"v":28},{"s":"m","t":-26,"v":28.5},{"s":"m","t":-24,"v":29},{"s":"m","t":-22,"v":30.5},{"s":"m","t":-20,"v":31},{"s":"m","t":-19,"v":30.5},{"s":"m","t":-17,"v":31.5},{"s":"m","t":-15,"v":30.5},{"s":"m","t":-13,"v":30},{"s":"m","t":-12,"v":29.5},{"s":"m","t":-10,"v":30.5},{"s":"m","t":-8,"v":32},{"s":"m","t":-6,"v":33},{"s":"m","t":-4,"v":34.5},{"s":"m","t":-2,"v":33.5},{"s":"m","t":0,"v":32},{"s":"m","t":2,"v":31},{"s":"m","t":4,"v":32.5},{"s":"m","t":6,"v":33.5},{"s":"m","t":8,"v":34.5},{"s":"m","t":10,"v":33},{"s":"m","t":12,"v":32},{"s":"m","t":14,"v":30},{"s":"m","t":16,"v":28},{"s":"m","t":18,"v":27},{"s":"m","t":20,"v":25},{"s":"m","t":22,"v":23.5},{"s":"m","t":24,"v":22},{"s":"m","t":26,"v":21},{"s":"m","t":27,"v":19},{"s":"m","t":28,"v":21},{"s":"m","t":30,"v":20},{"s":"m","t":32,"v":22},{"s":"m","t":34,"v":23},{"s":"m","t":36,"v":21},{"s":"m","t":38,"v":19},{"s":"m","t":40,"v":18},{"s":"m","t":41,"v":15},{"s":"m","t":42,"v":18.5},{"s":"m","t":44,"v":17.5},
{"s":"h","t":-45,"v":43},{"s":"h","t":-43,"v":44},{"s":"h","t":-41,"v":45},{"s":"h","t":-39,"v":40},{"s":"h","t":-37,"v":38},{"s":"h","t":-35,"v":37},{"s":"h","t":-33,"v":39},{"s":"h","t":-31,"v":43},{"s":"h","t":-30,"v":45},{"s":"h","t":-29,"v":45},{"s":"h","t":-27,"v":40},{"s":"h","t":-25,"v":37},{"s":"h","t":-23,"v":38},{"s":"h","t":-21,"v":36},{"s":"h","t":-19,"v":38},{"s":"h","t":-17,"v":37},{"s":"h","t":-15,"v":39},{"s":"h","t":-13,"v":40.5},{"s":"h","t":-11,"v":42},{"s":"h","t":-9,"v":41},{"s":"h","t":-7,"v":40},{"s":"h","t":-5,"v":42},{"s":"h","t":-4,"v":44.5},{"s":"h","t":-3,"v":42},{"s":"h","t":-1,"v":41},{"s":"h","t":1,"v":40},{"s":"h","t":3,"v":40.5},{"s":"h","t":5,"v":40},{"s":"h","t":7,"v":39.5},{"s":"h","t":9,"v":39},{"s":"h","t":11,"v":38.5},{"s":"h","t":13,"v":39},{"s":"h","t":15,"v":40},{"s":"h","t":16,"v":41},{"s":"h","t":18,"v":38},{"s":"h","t":20,"v":35},{"s":"h","t":22,"v":33},{"s":"h","t":24,"v":31},{"s":"h","t":26,"v":30},{"s":"h","t":28,"v":28},{"s":"h","t":30,"v":27},{"s":"h","t":32,"v":27},{"s":"h","t":34,"v":26},{"s":"h","t":36,"v":24},{"s":"h","t":38,"v":22},{"s":"h","t":40,"v":21},{"s":"h","t":42,"v":20},{"s":"h","t":44,"v":19},
{"s":"l","t":-45,"v":20.5},{"s":"l","t":-43,"v":22},{"s":"l","t":-42,"v":21},{"s":"l","t":-41,"v":18.5},{"s":"l","t":-40,"v":21},{"s":"l","t":-38,"v":24},{"s":"l","t":-36,"v":23},{"s":"l","t":-35,"v":22.5},{"s":"l","t":-34,"v":19.5},{"s":"l","t":-32,"v":22},{"s":"l","t":-30,"v":24.5},{"s":"l","t":-29,"v":25},{"s":"l","t":-27,"v":24},{"s":"l","t":-25,"v":23.5},{"s":"l","t":-24,"v":24.5},{"s":"l","t":-22,"v":26},{"s":"l","t":-20,"v":26.5},{"s":"l","t":-18,"v":25.5},{"s":"l","t":-16,"v":25},{"s":"l","t":-14,"v":24},{"s":"l","t":-12,"v":22.5},{"s":"l","t":-11,"v":22},{"s":"l","t":-9,"v":23},{"s":"l","t":-8,"v":24},{"s":"l","t":-6,"v":24.5},{"s":"l","t":-4,"v":24},{"s":"l","t":-2,"v":23.5},{"s":"l","t":0,"v":23.5},{"s":"l","t":2,"v":23},{"s":"l","t":4,"v":25},{"s":"l","t":6,"v":25.5},{"s":"l","t":8,"v":25},{"s":"l","t":10,"v":24},{"s":"l","t":12,"v":23},{"s":"l","t":14,"v":22},{"s":"l","t":16,"v":21},{"s":"l","t":18,"v":20},{"s":"l","t":20,"v":18.5},{"s":"l","t":22,"v":17.5},{"s":"l","t":24,"v":16},{"s":"l","t":26,"v":15},{"s":"l","t":28,"v":14},{"s":"l","t":30,"v":13.5},{"s":"l","t":32,"v":13},{"s":"l","t":34,"v":12},{"s":"l","t":36,"v":11},{"s":"l","t":38,"v":9.5},{"s":"l","t":40,"v":8.5},{"s":"l","t":42,"v":7.5},{"s":"l","t":43,"v":6.5},{"s":"l","t":44,"v":7}
],
"dg":[
{"s":1,"t":-45,"v":36.6},{"s":1,"t":-42,"v":40.2},{"s":1,"t":-38,"v":33.8},{"s":1,"t":-34,"v":32.2},{"s":1,"t":-30,"v":27.3},{"s":1,"t":-29,"v":27.3},{"s":1,"t":-25,"v":36},{"s":1,"t":-21,"v":39.5},{"s":1,"t":-17,"v":41},
{"s":2,"t":-41,"v":26.3},{"s":2,"t":-38,"v":41},{"s":2,"t":-35,"v":50},{"s":2,"t":-33,"v":55},
{"s":3,"t":-34,"v":29},{"s":3,"t":-32,"v":38},{"s":3,"t":-30,"v":45},{"s":3,"t":-28,"v":50},
{"s":4,"t":-29.5,"v":28.5},{"s":4,"t":-27,"v":38},{"s":4,"t":-25,"v":45},
{"s":5,"t":-21,"v":28.2},{"s":5,"t":-17,"v":41},{"s":5,"t":-14,"v":47},{"s":5,"t":-11,"v":50},
{"s":6,"t":-14,"v":19},{"s":6,"t":-9,"v":39.5},{"s":6,"t":-7,"v":45},{"s":6,"t":-4,"v":48},
{"s":7,"t":-25,"v":38},{"s":7,"t":-20,"v":36.2},{"s":7,"t":-16,"v":37},{"s":7,"t":-12,"v":40},{"s":7,"t":-9,"v":39},
{"s":8,"t":-12,"v":40},{"s":8,"t":-8,"v":35},{"s":8,"t":-4,"v":28},{"s":8,"t":0,"v":22},{"s":8,"t":3,"v":19.5},
{"s":9,"t":-10,"v":38},{"s":9,"t":-5,"v":32},{"s":9,"t":0,"v":27},{"s":9,"t":5,"v":24},{"s":9,"t":9,"v":22.4},
{"s":10,"t":5,"v":38},{"s":10,"t":10,"v":34},{"s":10,"t":14,"v":30},{"s":10,"t":18,"v":25},
{"s":11,"t":10,"v":40},{"s":11,"t":15,"v":36},{"s":11,"t":20,"v":30},{"s":11,"t":24,"v":25.7},
{"s":12,"t":15,"v":30},{"s":12,"t":20,"v":27},{"s":12,"t":26,"v":22.8},
{"s":13,"t":25,"v":40},{"s":13,"t":30,"v":37},{"s":13,"t":35,"v":33},{"s":13,"t":38,"v":30},{"s":13,"t":40,"v":27},{"s":13,"t":43,"v":21.2},
{"s":14,"t":30,"v":38},{"s":14,"t":35,"v":35},{"s":14,"t":40,"v":31},{"s":14,"t":44,"v":28.2},
{"s":15,"t":28,"v":39},{"s":15,"t":32,"v":37},{"s":15,"t":36,"v":36},{"s":15,"t":40,"v":35},
{"s":16,"t":18,"v":36},{"s":16,"t":22,"v":35},{"s":16,"t":26,"v":33},{"s":16,"t":29,"v":31.5},{"s":16,"t":32,"v":30.7},{"s":16,"t":36,"v":32},{"s":16,"t":40,"v":34},{"s":16,"t":44,"v":34},
{"s":17,"t":-45,"v":61.3},{"s":17,"t":-43,"v":61.5},{"s":17,"t":-41,"v":59.8},{"s":17,"t":-38,"v":61},{"s":17,"t":-35,"v":61.5},{"s":17,"t":-32,"v":59},{"s":17,"t":-28,"v":55},{"s":17,"t":-24,"v":52},
{"s":18,"t":-40,"v":59},{"s":18,"t":-37,"v":60.5},{"s":18,"t":-33,"v":62.3},{"s":18,"t":-30,"v":60},{"s":18,"t":-27,"v":57},{"s":18,"t":-22,"v":53},
{"s":19,"t":-15,"v":55},{"s":19,"t":-11,"v":59},{"s":19,"t":-8.5,"v":60.8},{"s":19,"t":-6,"v":59},{"s":19,"t":-2,"v":56},{"s":19,"t":2,"v":53},
{"s":20,"t":-45,"v":57},{"s":20,"t":-41,"v":56},{"s":20,"t":-37,"v":55},{"s":20,"t":-33,"v":54},{"s":20,"t":-29,"v":55},{"s":20,"t":-25,"v":56},{"s":20,"t":-21,"v":54},
{"s":21,"t":-45,"v":50},{"s":21,"t":-41,"v":48},{"s":21,"t":-37,"v":47},{"s":21,"t":-33,"v":49},{"s":21,"t":-29,"v":50},{"s":21,"t":-25,"v":48},
{"s":22,"t":-20,"v":55},{"s":22,"t":-15,"v":57},{"s":22,"t":-10,"v":56},{"s":22,"t":-5,"v":54},{"s":22,"t":0,"v":52},{"s":22,"t":5,"v":50},{"s":22,"t":10,"v":48},
{"s":23,"t":-5,"v":57},{"s":23,"t":0,"v":57},{"s":23,"t":5,"v":55},{"s":23,"t":10,"v":53},{"s":23,"t":15,"v":51},{"s":23,"t":20,"v":50},{"s":23,"t":25,"v":48},{"s":23,"t":27,"v":47},
{"s":24,"t":0,"v":48},{"s":24,"t":5,"v":50},{"s":24,"t":10,"v":52},{"s":24,"t":15,"v":50},{"s":24,"t":20,"v":47},{"s":24,"t":25,"v":44},{"s":24,"t":30,"v":41},{"s":24,"t":35,"v":40},{"s":24,"t":40,"v":39},{"s":24,"t":44,"v":38.5},
{"s":25,"t":-30,"v":46},{"s":25,"t":-25,"v":45},{"s":25,"t":-20,"v":44},{"s":25,"t":-15,"v":43},{"s":25,"t":-10,"v":44},{"s":25,"t":-5,"v":45},
{"s":26,"t":-10,"v":46},{"s":26,"t":-5,"v":44},{"s":26,"t":0,"v":42},{"s":26,"t":5,"v":40},{"s":26,"t":10,"v":38},{"s":26,"t":15,"v":36},{"s":26,"t":20,"v":34},
{"s":27,"t":-45,"v":45},{"s":27,"t":-42,"v":43},{"s":27,"t":-38,"v":42},{"s":27,"t":-34,"v":44},{"s":27,"t":-30,"v":43},
{"s":28,"t":20,"v":45},{"s":28,"t":25,"v":44},{"s":28,"t":30,"v":43},{"s":28,"t":35,"v":42},{"s":28,"t":40,"v":42},{"s":28,"t":44,"v":41},
{"s":29,"t":10,"v":44},{"s":29,"t":15,"v":42},{"s":29,"t":20,"v":40},{"s":29,"t":25,"v":38},{"s":29,"t":30,"v":36},{"s":29,"t":35,"v":34},{"s":29,"t":40,"v":33},{"s":29,"t":44,"v":32},
{"s":30,"t":-25,"v":50},{"s":30,"t":-20,"v":49},{"s":30,"t":-15,"v":50},{"s":30,"t":-10,"v":52},{"s":30,"t":-5,"v":50},{"s":30,"t":0,"v":48},{"s":30,"t":5,"v":46},
{"s":31,"t":-45,"v":48},{"s":31,"t":-40,"v":50},{"s":31,"t":-35,"v":51},{"s":31,"t":-30,"v":52},{"s":31,"t":-25,"v":51},{"s":31,"t":-20,"v":50},{"s":31,"t":-15,"v":49},{"s":31,"t":-10,"v":48},
{"s":32,"t":0,"v":46},{"s":32,"t":5,"v":45},{"s":32,"t":10,"v":44},{"s":32,"t":15,"v":44},{"s":32,"t":20,"v":42},{"s":32,"t":25,"v":40},{"s":32,"t":30,"v":39},{"s":32,"t":35,"v":38},{"s":32,"t":40,"v":37},{"s":32,"t":44,"v":36},
{"s":33,"t":-40,"v":44},{"s":33,"t":-35,"v":46},{"s":33,"t":-30,"v":48},{"s":33,"t":-25,"v":49},{"s":33,"t":-20,"v":47},{"s":33,"t":-15,"v":46},
{"s":34,"t":5,"v":55},{"s":34,"t":10,"v":52},{"s":34,"t":15,"v":48},{"s":34,"t":20,"v":45},{"s":34,"t":25,"v":42},{"s":34,"t":30,"v":40},
{"s":35,"t":-20,"v":42},{"s":35,"t":-15,"v":40},{"s":35,"t":-10,"v":38},{"s":35,"t":-5,"v":37},{"s":35,"t":0,"v":38},{"s":35,"t":5,"v":36},{"s":35,"t":10,"v":34},{"s":35,"t":15,"v":33},
{"s":36,"t":15,"v":47},{"s":36,"t":20,"v":44},{"s":36,"t":25,"v":41},{"s":36,"t":30,"v":40},{"s":36,"t":35,"v":41},{"s":36,"t":40,"v":40},{"s":36,"t":44,"v":39}
],
"dm":[
{"s":"m","t":-45,"v":45.5},{"s":"m","t":-43,"v":46},{"s":"m","t":-42,"v":45.5},{"s":"m","t":-40,"v":46},{"s":"m","t":-38,"v":46.5},{"s":"m","t":-37,"v":47},{"s":"m","t":-36,"v":46},{"s":"m","t":-35,"v":47.5},{"s":"m","t":-33,"v":47},{"s":"m","t":-31,"v":47.5},{"s":"m","t":-29,"v":47},{"s":"m","t":-27,"v":47.5},{"s":"m","t":-25,"v":48},{"s":"m","t":-23,"v":47.5},{"s":"m","t":-21,"v":48},{"s":"m","t":-19,"v":48},{"s":"m","t":-17,"v":47.5},{"s":"m","t":-15,"v":48},{"s":"m","t":-13,"v":48},{"s":"m","t":-11,"v":48.5},{"s":"m","t":-9,"v":48.5},{"s":"m","t":-7,"v":48},{"s":"m","t":-5,"v":47.5},{"s":"m","t":-3,"v":47},{"s":"m","t":-1,"v":46.5},{"s":"m","t":1,"v":46.5},{"s":"m","t":3,"v":46},{"s":"m","t":5,"v":46.5},{"s":"m","t":7,"v":46},{"s":"m","t":9,"v":45.5},{"s":"m","t":11,"v":45},{"s":"m","t":13,"v":44},{"s":"m","t":15,"v":43},{"s":"m","t":17,"v":42.5},{"s":"m","t":19,"v":41.5},{"s":"m","t":21,"v":40.5},{"s":"m","t":22,"v":40.2},{"s":"m","t":24,"v":40.5},{"s":"m","t":26,"v":39.5},{"s":"m","t":28,"v":39},{"s":"m","t":30,"v":40},{"s":"m","t":32,"v":38},{"s":"m","t":35,"v":38.5},{"s":"m","t":36,"v":39},{"s":"m","t":38,"v":40},{"s":"m","t":40,"v":37.2},{"s":"m","t":41,"v":38},{"s":"m","t":43,"v":37.7},{"s":"m","t":44.4,"v":37.4},
{"s":"h","t":-45,"v":52},{"s":"h","t":-44,"v":51.5},{"s":"h","t":-42,"v":52.5},{"s":"h","t":-40,"v":53},{"s":"h","t":-38,"v":53},{"s":"h","t":-36,"v":52.5},{"s":"h","t":-34,"v":53},{"s":"h","t":-32,"v":52},{"s":"h","t":-30,"v":51.5},{"s":"h","t":-28,"v":52},{"s":"h","t":-26,"v":51},{"s":"h","t":-24,"v":51.5},{"s":"h","t":-22,"v":52},{"s":"h","t":-20,"v":52},{"s":"h","t":-18,"v":51.5},{"s":"h","t":-16,"v":52},{"s":"h","t":-14,"v":51.5},{"s":"h","t":-12,"v":51.5},{"s":"h","t":-10,"v":51.5},{"s":"h","t":-8,"v":50.5},{"s":"h","t":-6,"v":50},{"s":"h","t":-4,"v":51.5},{"s":"h","t":-2,"v":51.5},{"s":"h","t":0,"v":51},{"s":"h","t":2,"v":51.5},{"s":"h","t":4,"v":51},{"s":"h","t":6,"v":51},{"s":"h","t":8,"v":51},{"s":"h","t":10,"v":50.5},{"s":"h","t":12,"v":50},{"s":"h","t":14,"v":48.5},{"s":"h","t":16,"v":47},{"s":"h","t":18,"v":46},{"s":"h","t":20,"v":44},{"s":"h","t":22,"v":43.5},{"s":"h","t":24,"v":43.5},{"s":"h","t":26,"v":43.5},{"s":"h","t":28,"v":42},{"s":"h","t":30,"v":41.5},{"s":"h","t":32,"v":41},{"s":"h","t":34,"v":40.5},{"s":"h","t":36,"v":40},{"s":"h","t":38,"v":40.5},{"s":"h","t":40,"v":40},{"s":"h","t":42,"v":39.5},{"s":"h","t":44.4,"v":38.5},
{"s":"l","t":-45,"v":44.5},{"s":"l","t":-43,"v":44},{"s":"l","t":-41,"v":43.5},{"s":"l","t":-39,"v":44},{"s":"l","t":-37,"v":43.5},{"s":"l","t":-35,"v":43},{"s":"l","t":-33,"v":43.5},{"s":"l","t":-31,"v":44},{"s":"l","t":-29,"v":45},{"s":"l","t":-27,"v":44.5},{"s":"l","t":-25,"v":45},{"s":"l","t":-23,"v":45.5},{"s":"l","t":-21,"v":44.5},{"s":"l","t":-19,"v":43.5},{"s":"l","t":-17,"v":43.5},{"s":"l","t":-15,"v":44},{"s":"l","t":-13,"v":45},{"s":"l","t":-11,"v":45.5},{"s":"l","t":-9,"v":46},{"s":"l","t":-7,"v":45.5},{"s":"l","t":-5,"v":44.5},{"s":"l","t":-3,"v":44},{"s":"l","t":-1,"v":43.5},{"s":"l","t":1,"v":42.5},{"s":"l","t":3,"v":42},{"s":"l","t":5,"v":42},{"s":"l","t":7,"v":41.5},{"s":"l","t":9,"v":41},{"s":"l","t":11,"v":40.5},{"s":"l","t":13,"v":40},{"s":"l","t":15,"v":39.5},{"s":"l","t":17,"v":38.5},{"s":"l","t":19,"v":38},{"s":"l","t":21,"v":37},{"s":"l","t":23,"v":36},{"s":"l","t":25,"v":35},{"s":"l","t":27,"v":34.5},{"s":"l","t":29,"v":34},{"s":"l","t":31,"v":33},{"s":"l","t":33,"v":32.5},{"s":"l","t":35,"v":32},{"s":"l","t":37,"v":32.5},{"s":"l","t":39,"v":33},{"s":"l","t":41,"v":32},{"s":"l","t":43,"v":30.8},{"s":"l","t":44.4,"v":33.2}
]
},
"vconcat":[
{"hconcat":[
 {"width":19,"height":1,"data":{"values":[]},"mark":"point","view":{"stroke":null}},
 {"hconcat":[
 {"width":567,"height":281,
  "title":{"text":"Maximum Mid-level (3-7 km) Convergence of all Cases"},
  "encoding":{
   "x":{"field":"t","type":"quantitative","scale":{"domain":[-45,45],"nice":false,"zero":false},"axis":{"values":[-40,-30,-20,-10,0,10,20,30,40],"title":"Time Relative to SR (minutes)"}},
   "y":{"field":"v","type":"quantitative","scale":{"domain":[0.00015,0.00795],"nice":false,"zero":false},"axis":{"values":[0.001,0.002,0.003,0.004,0.005,0.006,0.007],"format":".3f","title":"Convergence (s⁻¹)","minExtent":36,"maxExtent":36,"titlePadding":10}}
  },
  "layer":[
   {"data":{"name":"ag"},"mark":{"type":"line","color":"#9c9c9c","strokeWidth":1.2,"clip":true},"encoding":{"detail":{"field":"s"}}},
   {"data":{"name":"am"},"transform":[{"filter":"datum.s!='m'"}],"mark":{"type":"line","color":"#111","strokeWidth":1.8,"strokeDash":[6,3],"clip":true},"encoding":{"detail":{"field":"s"}}},
   {"data":{"name":"am"},"transform":[{"filter":"datum.s=='m'"}],"mark":{"type":"line","color":"#000","strokeWidth":2.6,"clip":true},"encoding":{}},
   {"data":{"values":[{"t":-43.6,"v":0.00716,"l":"a"}]},"mark":{"type":"text","font":"Liberation Serif","fontWeight":"bold","fontSize":28,"align":"left","baseline":"alphabetic","color":"#000"},"encoding":{"text":{"field":"l"}}}
  ]
 },
 {"width":557,"height":280,
  "title":{"text":"Maximum Zᴅʀ Column Depth of All Cases","dx":3},
  "encoding":{
   "x":{"field":"t","type":"quantitative","scale":{"domain":[-45,44],"nice":false,"zero":false},"axis":{"values":[-40,-30,-20,-10,0,10,20,30,40],"title":"Time Relative to SR (minutes)"}},
   "y":{"field":"v","type":"quantitative","scale":{"domain":[880,6720],"nice":false,"zero":false},"axis":{"values":[1000,2000,3000,4000,5000,6000],"format":"d","title":"Depth (m)","titleFontSize":8.5,"titleColor":"#666","minExtent":35,"maxExtent":35,"titlePadding":0}}
  },
  "layer":[
   {"data":{"name":"bg"},"mark":{"type":"line","color":"#9c9c9c","strokeWidth":1.2,"clip":true},"encoding":{"detail":{"field":"s"}}},
   {"data":{"name":"bm"},"transform":[{"filter":"datum.s!='m'"}],"mark":{"type":"line","color":"#111","strokeWidth":1.8,"strokeDash":[6,3],"clip":true},"encoding":{"detail":{"field":"s"}}},
   {"data":{"name":"bm"},"transform":[{"filter":"datum.s=='m'"}],"mark":{"type":"line","color":"#000","strokeWidth":2.6,"clip":true},"encoding":{}},
   {"data":{"values":[{"t":-43.6,"v":6125,"l":"b"}]},"mark":{"type":"text","font":"Liberation Serif","fontWeight":"bold","fontSize":28,"align":"left","baseline":"alphabetic","color":"#000"},"encoding":{"text":{"field":"l"}}}
  ]
 }
 ],"spacing":1}
],"bounds":"flush","spacing":0},
{"hconcat":[
 {"width":572,"height":283,
  "title":{"text":"Maximum VIL of All Cases"},
  "encoding":{
   "x":{"field":"t","type":"quantitative","scale":{"domain":[-45,45],"nice":false,"zero":false},"axis":{"values":[-40,-30,-20,-10,0,10,20,30,40],"title":"Time Relative to SR (minutes)"}},
   "y":{"field":"v","type":"quantitative","scale":{"domain":[-0.6,67],"nice":false,"zero":false},"axis":{"values":[0,10,20,30,40,50,60],"title":"VIL (kg m⁻²)","minExtent":21,"maxExtent":21,"titlePadding":6.5}}
  },
  "layer":[
   {"data":{"name":"cg"},"mark":{"type":"line","color":"#9c9c9c","strokeWidth":1.2,"clip":true},"encoding":{"detail":{"field":"s"}}},
   {"data":{"name":"cm"},"transform":[{"filter":"datum.s!='m'"}],"mark":{"type":"line","color":"#111","strokeWidth":1.8,"strokeDash":[6,3],"clip":true},"encoding":{"detail":{"field":"s"}}},
   {"data":{"name":"cm"},"transform":[{"filter":"datum.s=='m'"}],"mark":{"type":"line","color":"#000","strokeWidth":2.6,"clip":true},"encoding":{}},
   {"data":{"values":[{"t":-43.7,"v":2,"l":"c"}]},"mark":{"type":"text","font":"Liberation Serif","fontWeight":"bold","fontSize":28,"align":"left","baseline":"alphabetic","color":"#000"},"encoding":{"text":{"field":"l"}}}
  ]
 },
 {"width":569,"height":284,
  "title":{"text":"95th Percentile Z (dBZ) at -20ºC of All Cases","offset":0,"dx":3},
  "encoding":{
   "x":{"field":"t","type":"quantitative","scale":{"domain":[-45,44.4],"nice":false,"zero":false},"axis":{"values":[-40,-30,-20,-10,0,10,20,30,40],"title":"Time Relative to SR (minutes)"}},
   "y":{"field":"v","type":"quantitative","scale":{"domain":[16.8,64.3],"nice":false,"zero":false},"axis":{"values":[20,30,40,50,60],"title":"Z (dBZ)","minExtent":22,"maxExtent":22,"titlePadding":3.5}}
  },
  "layer":[
   {"data":{"name":"dg"},"mark":{"type":"line","color":"#9c9c9c","strokeWidth":1.2,"clip":true},"encoding":{"detail":{"field":"s"}}},
   {"data":{"name":"dm"},"transform":[{"filter":"datum.s!='m'"}],"mark":{"type":"line","color":"#111","strokeWidth":1.8,"strokeDash":[6,3],"clip":true},"encoding":{"detail":{"field":"s"}}},
   {"data":{"name":"dm"},"transform":[{"filter":"datum.s=='m'"}],"mark":{"type":"line","color":"#000","strokeWidth":2.6,"clip":true},"encoding":{}},
   {"data":{"values":[{"t":-43.5,"v":18.4,"l":"d"}]},"mark":{"type":"text","font":"Liberation Serif","fontWeight":"bold","fontSize":28,"align":"left","baseline":"alphabetic","color":"#000"},"encoding":{"text":{"field":"l"}}}
  ]
 }
],"spacing":10}
],
"spacing":9
}
